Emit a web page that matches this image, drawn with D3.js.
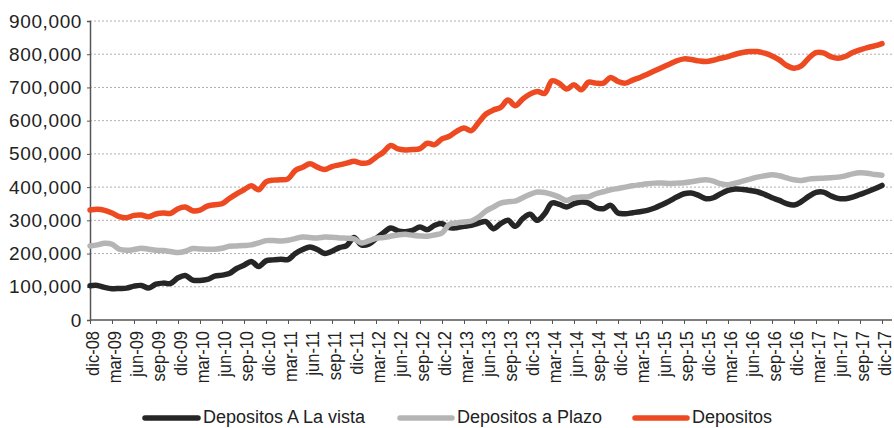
<!DOCTYPE html>
<html><head><meta charset="utf-8">
<script src="https://cdn.jsdelivr.net/npm/d3@7"></script>
<style>
html,body{margin:0;padding:0;background:#fff;}
svg{display:block;font-family:"Liberation Sans",Arial,sans-serif;}
</style></head>
<body>
<svg id="chart" width="894" height="428"></svg>
<script>
// Tick labels (every 3 months, dic-08 .. dic-17)
const tickLabels = ["dic-08","mar-09","jun-09","sep-09","dic-09","mar-10","jun-10","sep-10","dic-10",
"mar-11","jun-11","sep-11","dic-11","mar-12","jun-12","sep-12","dic-12","mar-13","jun-13","sep-13","dic-13",
"mar-14","jun-14","sep-14","dic-14","mar-15","jun-15","sep-15","dic-15","mar-16","jun-16","sep-16","dic-16",
"mar-17","jun-17","sep-17","dic-17"];
const yTicks = [0,100000,200000,300000,400000,500000,600000,700000,800000,900000];
const seriesNames = ["Depositos A La vista","Depositos a Plazo","Depositos"];
// Monthly values (thousands), dic-08 .. dic-17 (109 months)
const aLaVista = [103,104,98,94,95,96,102,104,96,108,111,110,127,134,120,119,122,132,135,140,155,165,176,161,
178,181,183,182,200,212,220,212,200,207,218,224,248,226,228,245,262,277,268,266,270,280,272,285,290,278,
278,282,285,292,296,275,290,300,282,305,318,300,320,352,348,340,350,355,352,338,335,345,322,320,323,326,
330,337,347,358,370,380,382,375,365,368,380,390,394,393,390,386,378,368,360,350,346,356,372,384,385,374,
366,365,370,378,386,395,405];
const aPlazo = [223,226,231,228,213,210,212,216,213,210,209,206,203,207,215,214,213,213,216,222,223,224,226,232,
239,239,238,240,245,250,248,247,250,249,247,246,244,232,238,246,248,252,256,258,255,253,252,256,262,288,
292,295,298,310,328,340,352,356,358,368,378,385,384,378,370,360,368,370,371,380,386,392,396,400,404,407,
410,412,412,411,412,413,416,420,422,418,410,407,412,418,424,430,434,437,434,428,422,420,424,426,427,428,
430,434,440,443,442,438,436];
const depositos = [331,333,330,322,311,308,315,316,311,319,322,321,335,340,329,331,343,347,350,366,380,392,404,392,
416,421,422,425,450,460,470,460,453,462,467,472,478,472,474,490,505,525,515,512,513,516,532,528,545,553,
568,578,570,595,620,632,640,662,645,665,680,688,682,720,712,695,708,693,716,713,713,730,718,713,722,730,
740,750,760,770,780,786,784,780,778,782,788,793,800,805,808,808,803,795,783,766,758,765,788,805,804,793,
788,793,805,813,820,825,832];
const colors = ["#262626","#b5b5b5","#ee4a22"];

const svg = d3.select("#chart");
const x0 = 90, x1 = 882, yTop = 21, yBot = 320;
const x = d3.scaleLinear().domain([0, aLaVista.length - 1]).range([x0, x1]);
const y = d3.scaleLinear().domain([0, 900000]).range([yBot, yTop]);

// gridlines
svg.append("g").selectAll("line").data(yTicks.filter(d => d > 0)).join("line")
  .attr("x1", x0).attr("x2", 892).attr("y1", d => y(d)).attr("y2", d => y(d))
  .attr("stroke", "#b0b0b0").attr("stroke-width", 1).attr("stroke-dasharray", "2,2");

// y axis
const yAxis = d3.axisLeft(y).tickValues(yTicks).tickSize(3).tickFormat(d3.format(","));
const gy = svg.append("g").attr("transform", `translate(${x0},0)`).call(yAxis);
gy.select(".domain").attr("stroke", "#555").attr("stroke-width", 1.5);
gy.selectAll(".tick line").attr("stroke", "#555");
gy.selectAll(".tick text").attr("font-size", 19).attr("fill", "#222").attr("x", -8)
  .attr("letter-spacing", "0.6px").attr("font-family", "'Liberation Sans',Arial,sans-serif");

// x axis
const tickIdx = tickLabels.map((_, i) => i * 3);
const xAxis = d3.axisBottom(x).tickValues(tickIdx).tickSize(4).tickFormat((d, i) => tickLabels[i]);
const gx = svg.append("g").attr("transform", `translate(0,${yBot})`).call(xAxis);
gx.select(".domain").attr("stroke", "#555").attr("stroke-width", 1.5).attr("d", `M${x0},0H892`);
gx.selectAll(".tick line").attr("stroke", "#555");
gx.selectAll(".tick text")
  .attr("font-size", 16.5).attr("fill", "#222").attr("font-family", "'Liberation Sans',Arial,sans-serif")
  .attr("text-anchor", "end").attr("dy", "0.35em").attr("y", 0).attr("x", 0)
  .attr("transform", "translate(2,11) scale(1.1,1) rotate(-90)");

// lines
const seriesData = [aLaVista, aPlazo, depositos];
const line = d3.line().x((d, i) => x(i)).y(d => y(d * 1000)).curve(d3.curveCatmullRom.alpha(0.5));
seriesData.forEach((s, k) => {
  svg.append("path").datum(s).attr("d", line).attr("fill", "none")
    .attr("stroke", colors[k]).attr("stroke-width", 5.5)
    .attr("stroke-linejoin", "round").attr("stroke-linecap", "round");
});

// legend
const legendPos = [{sx: 145, tx: 203}, {sx: 400, tx: 457}, {sx: 635, tx: 692}];
const lg = svg.append("g");
seriesNames.forEach((n, k) => {
  const p = legendPos[k];
  lg.append("line").attr("x1", p.sx).attr("x2", p.tx - 5).attr("y1", 418).attr("y2", 418)
    .attr("stroke", colors[k]).attr("stroke-width", 5.5).attr("stroke-linecap", "round");
  lg.append("text").attr("x", p.tx).attr("y", 423).attr("font-size", 18).attr("fill", "#222")
    .text(n);
});
</script>
</body></html>
